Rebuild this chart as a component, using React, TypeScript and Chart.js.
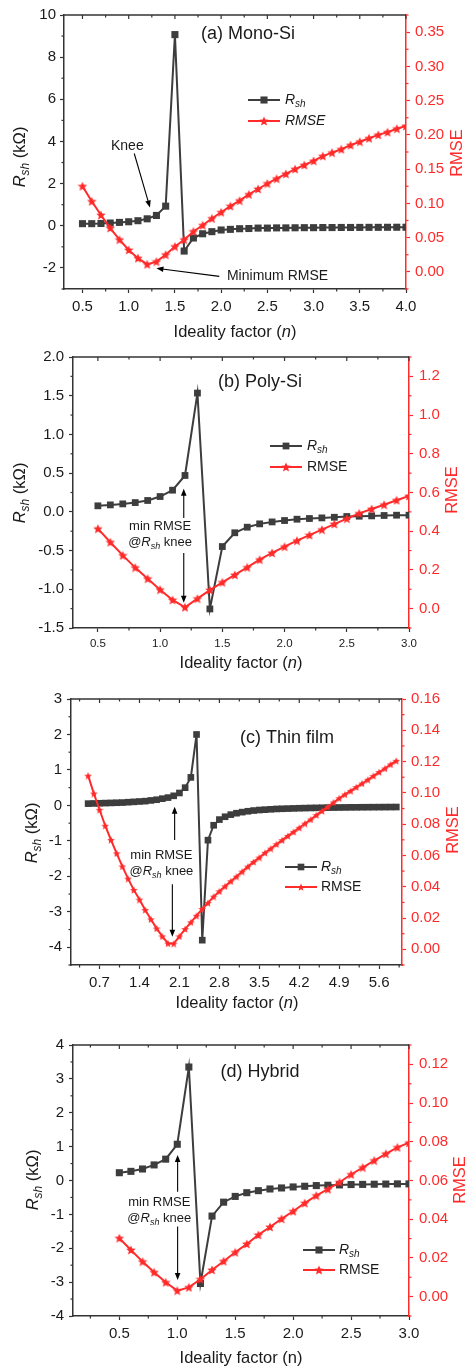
import React, { useEffect, useRef } from 'react';
import { Chart, registerables } from 'chart.js';
Chart.register(...registerables);

const FONT = '"Liberation Sans", Arial, Helvetica, sans-serif';
const GRAY = '#3d3d3d';
const RED = '#ff2b2b';
const AXIS = '#333333';
const TXT = '#1a1a1a';

// ---------- (a) Mono-Si ----------
const nA = [0.5, 0.6, 0.7, 0.8, 0.9, 1.0, 1.1, 1.2, 1.3, 1.4, 1.5, 1.6, 1.7, 1.8, 1.9, 2.0, 2.1, 2.2, 2.3, 2.4, 2.5, 2.6, 2.7, 2.8, 2.9, 3.0, 3.1, 3.2, 3.3, 3.4, 3.5, 3.6, 3.7, 3.8, 3.9, 4.0];
const rshA = [0.10, 0.10, 0.11, 0.13, 0.16, 0.19, 0.24, 0.33, 0.49, 0.93, 9.07, -1.20, -0.58, -0.38, -0.28, -0.20, -0.17, -0.14, -0.13, -0.11, -0.11, -0.10, -0.10, -0.095, -0.09, -0.09, -0.085, -0.085, -0.08, -0.08, -0.078, -0.075, -0.075, -0.072, -0.07, -0.07];
const rmseA = [0.125, 0.103, 0.083, 0.064, 0.047, 0.032, 0.020, 0.011, 0.015, 0.025, 0.037, 0.047, 0.059, 0.068, 0.078, 0.087, 0.096, 0.104, 0.113, 0.121, 0.129, 0.136, 0.143, 0.150, 0.156, 0.162, 0.169, 0.174, 0.179, 0.185, 0.190, 0.195, 0.200, 0.204, 0.209, 0.213];
const xMajorA = [0.5, 1.0, 1.5, 2.0, 2.5, 3.0, 3.5, 4.0];
const xMinorA = [0.75, 1.25, 1.75, 2.25, 2.75, 3.25, 3.75];
const ylMajorA = [-2, 0, 2, 4, 6, 8, 10];
const ylMinorA = [-3, -1, 1, 3, 5, 7, 9];
const yrMajorA = [0, 0.05, 0.1, 0.15, 0.2, 0.25, 0.3, 0.35];
const yrMinorA = [-0.025, 0.025, 0.075, 0.125, 0.175, 0.225, 0.275, 0.325, 0.375];

// ---------- (b) Poly-Si ----------
const nB = [0.5, 0.6, 0.7, 0.8, 0.9, 1.0, 1.1, 1.2, 1.3, 1.4, 1.5, 1.6, 1.7, 1.8, 1.9, 2.0, 2.1, 2.2, 2.3, 2.4, 2.5, 2.6, 2.7, 2.8, 2.9, 3.0];
const rshB = [0.078, 0.09, 0.103, 0.12, 0.147, 0.198, 0.28, 0.47, 1.534, -1.254, -0.448, -0.27, -0.198, -0.155, -0.13, -0.112, -0.095, -0.086, -0.078, -0.07, -0.06, -0.056, -0.052, -0.047, -0.043, -0.043];
const rmseB = [0.413, 0.343, 0.275, 0.212, 0.155, 0.098, 0.045, 0.007, 0.052, 0.096, 0.136, 0.174, 0.213, 0.253, 0.288, 0.32, 0.351, 0.38, 0.408, 0.437, 0.465, 0.492, 0.515, 0.537, 0.56, 0.582];
const xMajorB = [0.5, 1.0, 1.5, 2.0, 2.5, 3.0];
const xMinorB = [0.75, 1.25, 1.75, 2.25, 2.75];
const ylMajorB = [-1.5, -1.0, -0.5, 0.0, 0.5, 1.0, 1.5, 2.0];
const ylMinorB = [-1.25, -0.75, -0.25, 0.25, 0.75, 1.25, 1.75];
const yrMajorB = [0.0, 0.2, 0.4, 0.6, 0.8, 1.0, 1.2];
const yrMinorB = [-0.1, 0.1, 0.3, 0.5, 0.7, 0.9, 1.1, 1.3];

// ---------- (c) Thin film ----------
const nC = [0.5, 0.6, 0.7, 0.8, 0.9, 1.0, 1.1, 1.2, 1.3, 1.4, 1.5, 1.6, 1.7, 1.8, 1.9, 2.0, 2.1, 2.2, 2.3, 2.4, 2.5, 2.6, 2.7, 2.8, 2.9, 3.0, 3.1, 3.2, 3.3, 3.4, 3.5, 3.6, 3.7, 3.8, 3.9, 4.0, 4.1, 4.2, 4.3, 4.4, 4.5, 4.6, 4.7, 4.8, 4.9, 5.0, 5.1, 5.2, 5.3, 5.4, 5.5, 5.6, 5.7, 5.8, 5.9];
const rshC = [0.05, 0.055, 0.06, 0.065, 0.07, 0.075, 0.08, 0.09, 0.10, 0.11, 0.12, 0.14, 0.16, 0.19, 0.22, 0.27, 0.35, 0.5, 0.79, 2.0, -3.8, -0.98, -0.56, -0.40, -0.32, -0.26, -0.22, -0.19, -0.165, -0.145, -0.13, -0.12, -0.11, -0.10, -0.095, -0.09, -0.085, -0.08, -0.076, -0.072, -0.069, -0.066, -0.063, -0.061, -0.059, -0.057, -0.055, -0.054, -0.052, -0.051, -0.05, -0.049, -0.048, -0.047, -0.046];
const rmseC = [0.111, 0.0996, 0.0892, 0.079, 0.070, 0.0614, 0.053, 0.0452, 0.038, 0.0318, 0.0252, 0.0192, 0.0134, 0.0083, 0.0038, 0.0037, 0.0083, 0.0130, 0.0173, 0.0215, 0.0258, 0.0297, 0.0337, 0.0371, 0.0403, 0.0435, 0.0465, 0.0497, 0.0529, 0.0559, 0.0587, 0.0617, 0.0644, 0.0672, 0.0698, 0.0725, 0.0751, 0.0777, 0.0804, 0.0830, 0.0858, 0.0885, 0.0911, 0.0939, 0.0966, 0.0990, 0.1013, 0.1037, 0.1060, 0.1084, 0.1109, 0.1133, 0.1156, 0.1182, 0.1205];
const xMajorC = [0.7, 1.4, 2.1, 2.8, 3.5, 4.2, 4.9, 5.6];
const xMinorC = [0.35, 1.05, 1.75, 2.45, 3.15, 3.85, 4.55, 5.25, 5.95];
const ylMajorC = [-4, -3, -2, -1, 0, 1, 2, 3];
const ylMinorC = [-4.5, -3.5, -2.5, -1.5, -0.5, 0.5, 1.5, 2.5];
const yrMajorC = [0, 0.02, 0.04, 0.06, 0.08, 0.1, 0.12, 0.14, 0.16];
const yrMinorC = [-0.01, 0.01, 0.03, 0.05, 0.07, 0.09, 0.11, 0.13, 0.15];

// ---------- (d) Hybrid ----------
const nD = [0.5, 0.6, 0.7, 0.8, 0.9, 1.0, 1.1, 1.2, 1.3, 1.4, 1.5, 1.6, 1.7, 1.8, 1.9, 2.0, 2.1, 2.2, 2.3, 2.4, 2.5, 2.6, 2.7, 2.8, 2.9, 3.0];
const rshD = [0.23, 0.27, 0.34, 0.46, 0.63, 1.07, 3.35, -3.04, -1.05, -0.64, -0.47, -0.36, -0.30, -0.25, -0.22, -0.19, -0.17, -0.15, -0.14, -0.13, -0.12, -0.115, -0.11, -0.105, -0.10, -0.10];
const rmseD = [0.0302, 0.0241, 0.0181, 0.0126, 0.0074, 0.0031, 0.0048, 0.0090, 0.0138, 0.0183, 0.0229, 0.0272, 0.0319, 0.0360, 0.0402, 0.0441, 0.0483, 0.0522, 0.0555, 0.0591, 0.0631, 0.0667, 0.0703, 0.0738, 0.0771, 0.0795];
const xMajorD = [0.5, 1.0, 1.5, 2.0, 2.5, 3.0];
const xMinorD = [0.25, 0.75, 1.25, 1.75, 2.25, 2.75];
const ylMajorD = [-4, -3, -2, -1, 0, 1, 2, 3, 4];
const ylMinorD = [-3.5, -2.5, -1.5, -0.5, 0.5, 1.5, 2.5, 3.5];
const yrMajorD = [0, 0.02, 0.04, 0.06, 0.08, 0.1, 0.12];
const yrMinorD = [-0.01, 0.01, 0.03, 0.05, 0.07, 0.09, 0.11, 0.13];

type Part = { t: string; it?: boolean; sub?: boolean };
type Axis = { min: number; max: number; major: number[]; minor: number[]; dec: number; fs: number; pad: number };
type Panel = {
  top: number; height: number; L: number; R: number; T: number; B: number;
  n: number[]; rsh: number[]; rmse: number[];
  x: Axis; yl: Axis; yr: Axis;
  starSize: number; rectR: number;
  label: { t: string; x: number; y: number };
  legend: { x1: number; x2: number; y1: number; y2: number; tx: number; rmseItalic: boolean };
  xTitle: { x: number; y: number; nItalic: boolean };
  lTitle: { x: number; y: number };
  rTitle: { x: number; y: number };
  notes: { x: number; y: number; parts: Part[]; fs: number }[];
  arrows: { x1: number; y1: number; x2: number; y2: number }[];
};

const RSH_PARTS: Part[] = [{ t: 'R', it: true }, { t: 'sh', it: true, sub: true }];
const KNEE_PARTS: Part[] = [{ t: '@' }, { t: 'R', it: true }, { t: 'sh', it: true, sub: true }, { t: ' knee' }];

const PANELS: Panel[] = [
  {
    top: 0, height: 340, L: 64, R: 406, T: 15, B: 289,
    n: nA, rsh: rshA, rmse: rmseA,
    x: { min: 0.3, max: 4.0, major: xMajorA, minor: xMinorA, dec: 1, fs: 15, pad: 5 },
    yl: { min: -3, max: 10, major: ylMajorA, minor: ylMinorA, dec: 0, fs: 15, pad: 4 },
    yr: { min: -0.025, max: 0.375, major: yrMajorA, minor: yrMinorA, dec: 2, fs: 15, pad: 5 },
    starSize: 10, rectR: 5,
    label: { t: '(a) Mono-Si', x: 248, y: 34 },
    legend: { x1: 248, x2: 280, y1: 100, y2: 121, tx: 285, rmseItalic: true },
    xTitle: { x: 235, y: 332, nItalic: true },
    lTitle: { x: 20, y: 157 },
    rTitle: { x: 457, y: 153 },
    notes: [
      { x: 0.985, y: 3.76, parts: [{ t: 'Knee' }], fs: 14 },
      { x: 2.61, y: -2.4, parts: [{ t: 'Minimum RMSE' }], fs: 14 },
    ],
    arrows: [
      { x1: 1.06, y1: 3.43, x2: 1.23, y2: 0.87 },
      { x1: 1.98, y1: -2.4, x2: 1.30, y2: -2.02 },
    ],
  },
  {
    top: 340, height: 340, L: 73, R: 409, T: 357, B: 628,
    n: nB, rsh: rshB, rmse: rmseB,
    x: { min: 0.3, max: 3.0, major: xMajorB, minor: xMinorB, dec: 1, fs: 11.5, pad: 5 },
    yl: { min: -1.5, max: 2.0, major: ylMajorB, minor: ylMinorB, dec: 1, fs: 15, pad: 5 },
    yr: { min: -0.1, max: 1.3, major: yrMajorB, minor: yrMinorB, dec: 1, fs: 15, pad: 6 },
    starSize: 10, rectR: 4.8,
    label: { t: '(b) Poly-Si', x: 260, y: 382 },
    legend: { x1: 270, x2: 302, y1: 446, y2: 467, tx: 307, rmseItalic: false },
    xTitle: { x: 241, y: 663, nItalic: true },
    lTitle: { x: 20, y: 493 },
    rTitle: { x: 452, y: 490 },
    notes: [
      { x: 1.0, y: -0.19, parts: [{ t: 'min RMSE' }], fs: 13 },
      { x: 1.0, y: -0.39, parts: KNEE_PARTS, fs: 13 },
    ],
    arrows: [
      { x1: 1.19, y1: -0.078, x2: 1.19, y2: 0.30 },
      { x1: 1.19, y1: -0.53, x2: 1.19, y2: -1.175 },
    ],
  },
  {
    top: 680, height: 335, L: 71, R: 402, T: 699, B: 965,
    n: nC, rsh: rshC, rmse: rmseC,
    x: { min: 0.2, max: 6.0, major: xMajorC, minor: xMinorC, dec: 1, fs: 15, pad: 5 },
    yl: { min: -4.5, max: 3, major: ylMajorC, minor: ylMinorC, dec: 0, fs: 15, pad: 5 },
    yr: { min: -0.01, max: 0.16, major: yrMajorC, minor: yrMinorC, dec: 2, fs: 15, pad: 5 },
    starSize: 8, rectR: 4.7,
    label: { t: '(c) Thin film', x: 287, y: 738 },
    legend: { x1: 285, x2: 317, y1: 867, y2: 887, tx: 321, rmseItalic: false },
    xTitle: { x: 237, y: 1003, nItalic: true },
    lTitle: { x: 32, y: 833 },
    rTitle: { x: 453, y: 830 },
    notes: [
      { x: 1.784, y: -1.40, parts: [{ t: 'min RMSE' }], fs: 13 },
      { x: 1.784, y: -1.85, parts: KNEE_PARTS, fs: 13 },
    ],
    arrows: [
      { x1: 2.016, y1: -0.975, x2: 2.016, y2: -0.04 },
      { x1: 1.976, y1: -2.22, x2: 1.976, y2: -3.70 },
    ],
  },
  {
    top: 1015, height: 353, L: 73, R: 409, T: 1045, B: 1316,
    n: nD, rsh: rshD, rmse: rmseD,
    x: { min: 0.1, max: 3.0, major: xMajorD, minor: xMinorD, dec: 1, fs: 15, pad: 5 },
    yl: { min: -4, max: 4, major: ylMajorD, minor: ylMinorD, dec: 0, fs: 15, pad: 5 },
    yr: { min: -0.01, max: 0.13, major: yrMajorD, minor: yrMinorD, dec: 2, fs: 15, pad: 6 },
    starSize: 10, rectR: 5,
    label: { t: '(d) Hybrid', x: 260, y: 1072 },
    legend: { x1: 303, x2: 335, y1: 1250, y2: 1270, tx: 339, rmseItalic: false },
    xTitle: { x: 241, y: 1358, nItalic: false },
    lTitle: { x: 33, y: 1180 },
    rTitle: { x: 460, y: 1180 },
    notes: [
      { x: 0.845, y: -0.64, parts: [{ t: 'min RMSE' }], fs: 13 },
      { x: 0.845, y: -1.12, parts: KNEE_PARTS, fs: 13 },
    ],
    arrows: [
      { x1: 1.003, y1: -0.33, x2: 1.003, y2: 0.75 },
      { x1: 1.003, y1: -1.36, x2: 1.003, y2: -2.94 },
    ],
  },
];

function makeStar(size: number, color: string) {
  const c = document.createElement('canvas');
  c.width = size;
  c.height = size;
  const ctx = c.getContext('2d')!;
  const cx = size / 2, cy = size / 2 + 0.4, Ro = size / 2, ri = Ro * 0.45;
  ctx.beginPath();
  for (let i = 0; i < 10; i++) {
    const a = -Math.PI / 2 + (i * Math.PI) / 5;
    const r = i % 2 === 0 ? Ro : ri;
    ctx.lineTo(cx + r * Math.cos(a), cy + r * Math.sin(a));
  }
  ctx.closePath();
  ctx.fillStyle = color;
  ctx.fill();
  return c;
}

function fontOf(p: Part, size: number) {
  const s = p.sub ? Math.round(size * 0.7) : size;
  return `${p.it ? 'italic ' : ''}${s}px ${FONT}`;
}

function drawRich(ctx: CanvasRenderingContext2D, parts: Part[], x: number, y: number, size: number, color: string, align: 'center' | 'left') {
  const ws = parts.map((p) => {
    ctx.font = fontOf(p, size);
    return ctx.measureText(p.t).width;
  });
  const total = ws.reduce((a, b) => a + b, 0);
  let cx = align === 'center' ? x - total / 2 : x;
  ctx.fillStyle = color;
  ctx.textBaseline = 'middle';
  ctx.textAlign = 'left';
  parts.forEach((p, i) => {
    ctx.font = fontOf(p, size);
    ctx.fillText(p.t, cx, p.sub ? y + size * 0.32 : y);
    cx += ws[i];
  });
}

function drawArrow(ctx: CanvasRenderingContext2D, x1: number, y1: number, x2: number, y2: number) {
  const ang = Math.atan2(y2 - y1, x2 - x1);
  const hl = 7, hw = 2.8;
  ctx.strokeStyle = '#000';
  ctx.fillStyle = '#000';
  ctx.lineWidth = 1.1;
  ctx.beginPath();
  ctx.moveTo(x1, y1);
  ctx.lineTo(x2 - Math.cos(ang) * hl * 0.8, y2 - Math.sin(ang) * hl * 0.8);
  ctx.stroke();
  ctx.beginPath();
  ctx.moveTo(x2, y2);
  ctx.lineTo(x2 - Math.cos(ang) * hl + Math.sin(ang) * hw, y2 - Math.sin(ang) * hl - Math.cos(ang) * hw);
  ctx.lineTo(x2 - Math.cos(ang) * hl - Math.sin(ang) * hw, y2 - Math.sin(ang) * hl + Math.cos(ang) * hw);
  ctx.closePath();
  ctx.fill();
}

function drawDecor(chart: any, p: Panel, star: HTMLCanvasElement) {
  const ctx: CanvasRenderingContext2D = chart.ctx;
  const { left, right, top, bottom } = chart.chartArea;
  const xs = chart.scales.x, yl = chart.scales.yL, yr = chart.scales.yR;
  const o = p.top;
  ctx.save();
  // top frame line
  ctx.strokeStyle = AXIS;
  ctx.lineWidth = 1.5;
  ctx.beginPath();
  ctx.moveTo(left, top);
  ctx.lineTo(right, top);
  ctx.stroke();
  ctx.lineWidth = 1.2;
  // top ticks (inward) and bottom minor ticks
  p.x.major.forEach((v) => {
    const px = xs.getPixelForValue(v);
    ctx.beginPath(); ctx.moveTo(px, top); ctx.lineTo(px, top + 4); ctx.stroke();
  });
  p.x.minor.forEach((v) => {
    if (v < p.x.min || v > p.x.max) return;
    const px = xs.getPixelForValue(v);
    ctx.beginPath(); ctx.moveTo(px, top); ctx.lineTo(px, top + 2.5); ctx.stroke();
    ctx.beginPath(); ctx.moveTo(px, bottom); ctx.lineTo(px, bottom + 2.5); ctx.stroke();
  });
  p.yl.minor.forEach((v) => {
    const py = yl.getPixelForValue(v);
    ctx.beginPath(); ctx.moveTo(left - 2.5, py); ctx.lineTo(left, py); ctx.stroke();
  });
  ctx.strokeStyle = RED;
  p.yr.minor.forEach((v) => {
    const py = yr.getPixelForValue(v);
    ctx.beginPath(); ctx.moveTo(right, py); ctx.lineTo(right + 2.5, py); ctx.stroke();
  });

  // panel label
  drawRich(ctx, [{ t: p.label.t }], p.label.x, p.label.y - o, 18, TXT, 'center');

  // legend
  const lg = p.legend;
  const mid = (lg.x1 + lg.x2) / 2;
  ctx.lineWidth = 2;
  ctx.strokeStyle = GRAY;
  ctx.beginPath(); ctx.moveTo(lg.x1, lg.y1 - o); ctx.lineTo(lg.x2, lg.y1 - o); ctx.stroke();
  ctx.fillStyle = GRAY;
  const sq = p.rectR * Math.SQRT2;
  ctx.fillRect(mid - sq / 2, lg.y1 - o - sq / 2, sq, sq);
  drawRich(ctx, RSH_PARTS, lg.tx, lg.y1 - o, 14, TXT, 'left');
  ctx.strokeStyle = RED;
  ctx.beginPath(); ctx.moveTo(lg.x1, lg.y2 - o); ctx.lineTo(lg.x2, lg.y2 - o); ctx.stroke();
  ctx.drawImage(star, mid - star.width / 2, lg.y2 - o - star.height / 2);
  drawRich(ctx, [{ t: 'RMSE', it: lg.rmseItalic }], lg.tx, lg.y2 - o, 14, TXT, 'left');

  // annotations (data coordinates on the left axis)
  p.notes.forEach((nt) => {
    drawRich(ctx, nt.parts, xs.getPixelForValue(nt.x), yl.getPixelForValue(nt.y), nt.fs, TXT, 'center');
  });
  p.arrows.forEach((a) => {
    drawArrow(ctx, xs.getPixelForValue(a.x1), yl.getPixelForValue(a.y1), xs.getPixelForValue(a.x2), yl.getPixelForValue(a.y2));
  });

  // axis titles
  drawRich(ctx, [{ t: 'Ideality factor (' }, { t: 'n', it: p.xTitle.nItalic }, { t: ')' }], p.xTitle.x, p.xTitle.y - o, 16.5, TXT, 'center');
  ctx.save();
  ctx.translate(p.lTitle.x, p.lTitle.y - o);
  ctx.rotate(-Math.PI / 2);
  drawRich(ctx, [...RSH_PARTS, { t: ' (kΩ)' }], 0, 0, 16.5, TXT, 'center');
  ctx.restore();
  ctx.save();
  ctx.translate(p.rTitle.x, p.rTitle.y - o);
  ctx.rotate(-Math.PI / 2);
  drawRich(ctx, [{ t: 'RMSE' }], 0, 0, 16.5, RED, 'center');
  ctx.restore();
  ctx.restore();
}

function axisOpts(a: Axis, color: string, textColor: string, position: string, fit: (s: any) => void) {
  return {
    type: 'linear' as const,
    position,
    min: a.min,
    max: a.max,
    afterBuildTicks: (s: any) => {
      s.ticks = a.major.map((v) => ({ value: v }));
    },
    afterFit: fit,
    grid: { display: true, drawOnChartArea: false, drawTicks: true, tickLength: 4, tickColor: color, tickWidth: 1.2, color },
    border: { display: true, color, width: 1.5 },
    ticks: {
      autoSkip: false,
      maxRotation: 0,
      minRotation: 0,
      padding: a.pad,
      color: textColor,
      font: { family: FONT, size: a.fs },
      callback: (v: any) => Number(v).toFixed(a.dec),
    },
  };
}

function PanelChart({ p }: { p: Panel }) {
  const ref = useRef<HTMLCanvasElement>(null);
  useEffect(() => {
    const canvas = ref.current!;
    const star = makeStar(p.starSize, RED);
    const decor = { id: 'decor', afterDraw: (chart: any) => drawDecor(chart, p, star) };
    const chart = new Chart(canvas, {
      type: 'line',
      data: {
        datasets: [
          {
            label: 'RMSE',
            data: p.n.map((x, i) => ({ x, y: p.rmse[i] })),
            yAxisID: 'yR',
            borderColor: RED,
            backgroundColor: RED,
            borderWidth: 2,
            pointStyle: star as any,
            pointRadius: p.starSize / 2,
            tension: 0,
          },
          {
            label: 'Rsh',
            data: p.n.map((x, i) => ({ x, y: p.rsh[i] })),
            yAxisID: 'yL',
            borderColor: GRAY,
            backgroundColor: GRAY,
            borderWidth: 2,
            pointStyle: 'rect',
            pointRadius: p.rectR,
            pointBackgroundColor: GRAY,
            pointBorderColor: GRAY,
            pointBorderWidth: 0,
            tension: 0,
          },
        ],
      },
      options: {
        responsive: false,
        animation: false,
        events: [],
        layout: { padding: { top: p.T - p.top, left: 0, right: 0, bottom: 0 } },
        plugins: { legend: { display: false }, tooltip: { enabled: false } },
        scales: {
          x: axisOpts(p.x, AXIS, TXT, 'bottom', (s: any) => { s.height = p.top + p.height - p.B; }) as any,
          yL: axisOpts(p.yl, AXIS, TXT, 'left', (s: any) => { s.width = p.L; }) as any,
          yR: axisOpts(p.yr, RED, RED, 'right', (s: any) => { s.width = 465 - p.R; }) as any,
        },
      },
      plugins: [decor],
    });
    return () => chart.destroy();
  }, [p]);
  return (
    <canvas
      ref={ref}
      width={465}
      height={p.height}
      style={{ position: 'absolute', left: 0, top: p.top, width: 465, height: p.height, display: 'block' }}
    />
  );
}

export default function App() {
  return (
    <div style={{ position: 'absolute', left: 0, top: 0, width: 465, height: 1368, background: '#fff', overflow: 'hidden' }}>
      {PANELS.map((p, i) => (
        <PanelChart key={i} p={p} />
      ))}
    </div>
  );
}
